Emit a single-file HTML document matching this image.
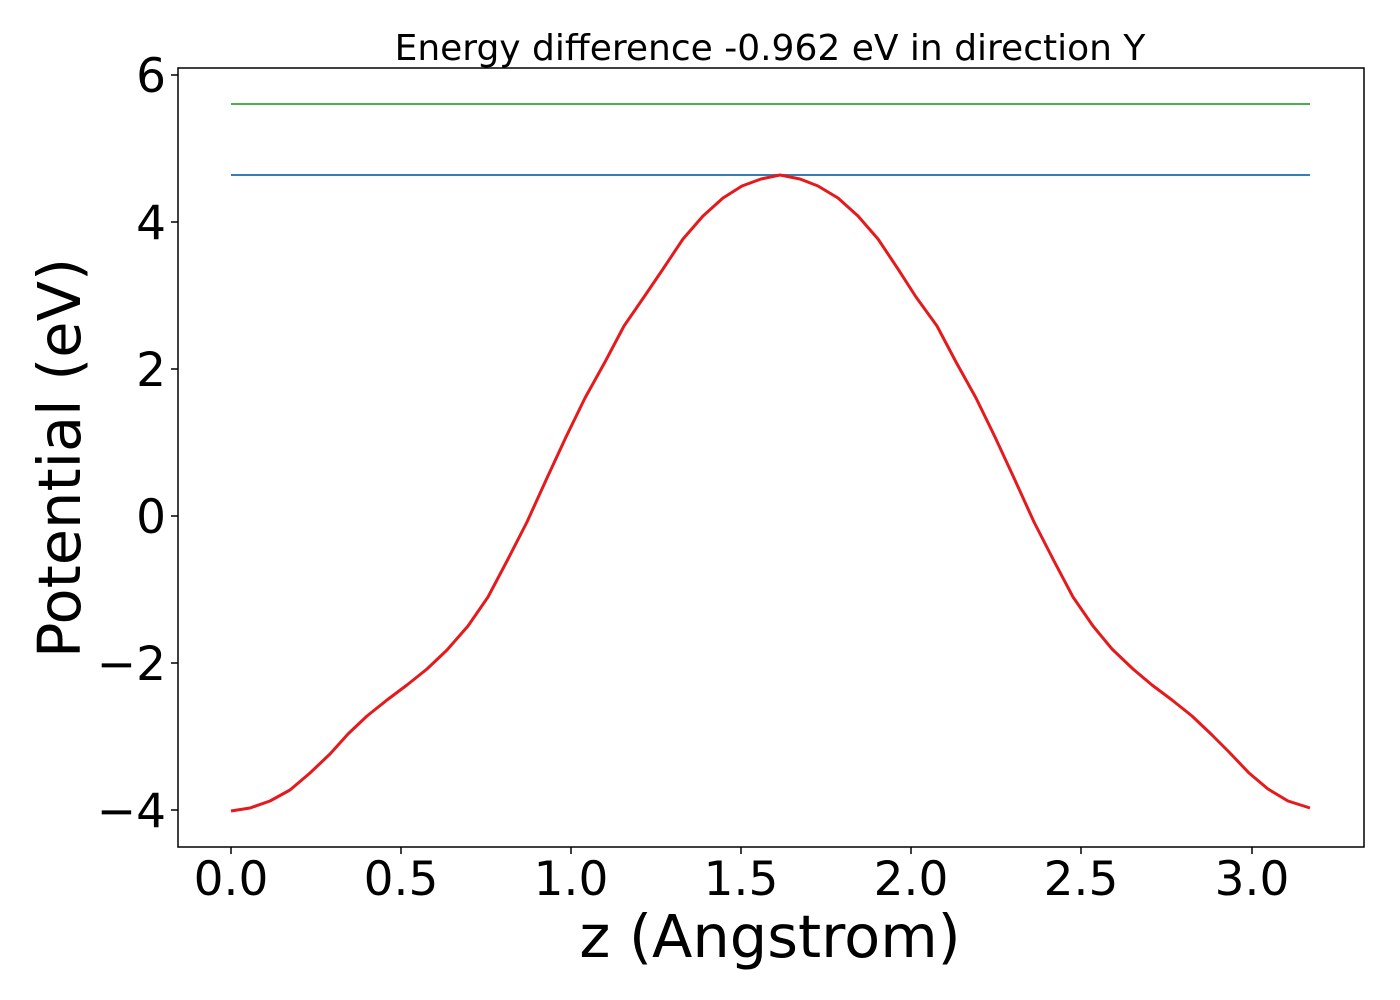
<!DOCTYPE html>
<html><head><meta charset="utf-8"><style>body{margin:0;background:#fff}svg{display:block}</style></head>
<body>
<svg width="1400" height="1000" viewBox="0 0 1400 1000" xmlns="http://www.w3.org/2000/svg" font-family="DejaVu Sans, Liberation Sans, sans-serif">
<rect width="1400" height="1000" fill="#fff"/>
<line x1="231" y1="104" x2="1310" y2="104" stroke="#4daf4a" stroke-width="2"/>
<line x1="231" y1="175" x2="1310" y2="175" stroke="#377eb8" stroke-width="2"/>
<polyline fill="none" stroke="#e41a1c" stroke-width="3" stroke-linejoin="round" points="231,811 250,808 270,801 290,790 310,773 330,754 348,734 367,716 387,700 407,685 427,669 447,650 468,626 488,597 507,561 527,522 547,478 566,437 585,398 605,362 624,326 644,297 663,269 683,239 703,216 723,198 742,186 761,179 780,175 800,179 818,186 838,198 858,216 878,239 898,269 916,297 937,326 956,362 976,398 995,437 1014,478 1034,522 1054,561 1073,597 1093,626 1112,649 1133,669 1152,685 1172,700 1192,716 1211,734 1229,752 1249,773 1268,789 1288,801 1310,808"/>
<rect x="178" y="68" width="1186" height="779" fill="none" stroke="#000" stroke-width="1.5"/>
<g stroke="#000" stroke-width="1.5">
<line x1="171" y1="75" x2="178" y2="75"/><line x1="171" y1="222" x2="178" y2="222"/><line x1="171" y1="369" x2="178" y2="369"/><line x1="171" y1="516" x2="178" y2="516"/><line x1="171" y1="663" x2="178" y2="663"/><line x1="171" y1="810" x2="178" y2="810"/>
<line x1="231" y1="847" x2="231" y2="854"/><line x1="401" y1="847" x2="401" y2="854"/><line x1="571" y1="847" x2="571" y2="854"/><line x1="741" y1="847" x2="741" y2="854"/><line x1="911" y1="847" x2="911" y2="854"/><line x1="1081" y1="847" x2="1081" y2="854"/><line x1="1252" y1="847" x2="1252" y2="854"/>
</g>
<g font-size="47" text-anchor="end" fill="#000">
<text x="166" y="92">6</text><text x="166" y="239">4</text><text x="166" y="386">2</text><text x="166" y="533">0</text><text x="166" y="680">−2</text><text x="166" y="827">−4</text>
</g>
<g font-size="47" text-anchor="middle" fill="#000">
<text x="231" y="895">0.0</text><text x="401" y="895">0.5</text><text x="571" y="895">1.0</text><text x="741" y="895">1.5</text><text x="911" y="895">2.0</text><text x="1081" y="895">2.5</text><text x="1252" y="895">3.0</text>
</g>
<text x="770" y="957" font-size="59" text-anchor="middle">z (Angstrom)</text>
<text transform="translate(80,458) rotate(-90)" font-size="59" text-anchor="middle">Potential (eV)</text>
<text x="770" y="60" font-size="36" text-anchor="middle">Energy difference -0.962 eV in direction Y</text>
</svg>
</body></html>
